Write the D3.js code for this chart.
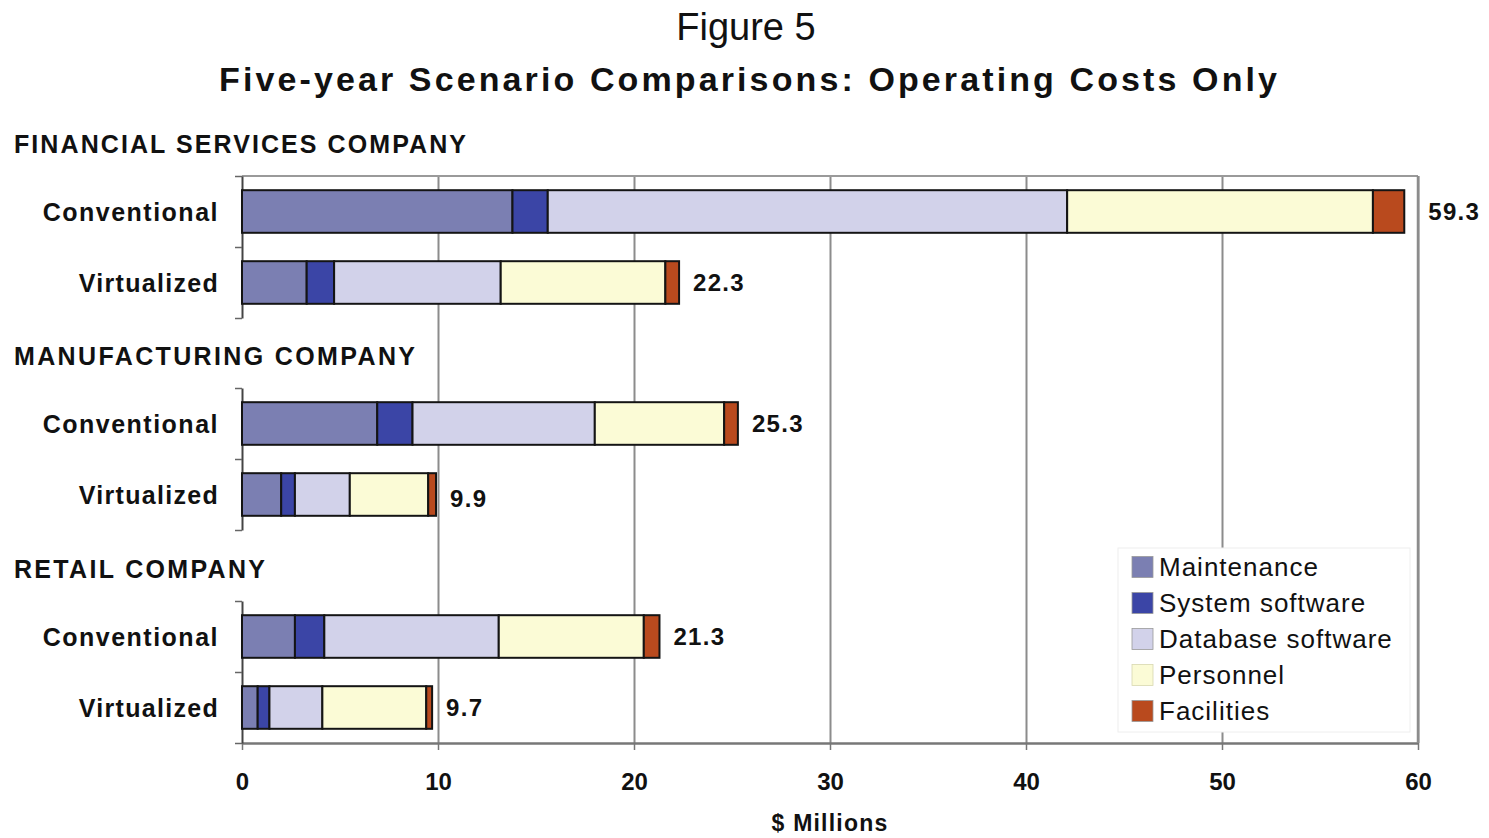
<!DOCTYPE html>
<html>
<head>
<meta charset="utf-8">
<script src="https://cdn.jsdelivr.net/npm/d3@7/dist/d3.min.js"></script>
<style>
  body { margin: 0; background: #fff; }
  text { font-family: "Liberation Sans", Arial, sans-serif; fill: #111; }
</style>
</head>
<body>
<div id="chart"></div>
<script>
// companies, scenarios and cost parts
const groups = ["FINANCIAL SERVICES COMPANY", "MANUFACTURING COMPANY", "RETAIL COMPANY"];
const scenarios = ["Conventional", "Virtualized"];
const components = ["Maintenance", "System software", "Database software", "Personnel", "Facilities"];

// one value per bar: fin conv, fin virt, manu conv, manu virt, retail conv, retail virt
const maintenance      = [13.8, 3.3, 6.9, 2.0, 2.7, 0.8];
const systemSoftware   = [1.8, 1.4, 1.8, 0.7, 1.5, 0.6];
const databaseSoftware = [26.5, 8.5, 9.3, 2.8, 8.9, 2.7];
const personnel        = [15.6, 8.4, 6.6, 4.0, 7.4, 5.3];
const facilities       = [1.6, 0.7, 0.7, 0.4, 0.8, 0.3];
const totals           = [59.3, 22.3, 25.3, 9.9, 21.3, 9.7];

const xTicks = [0, 10, 20, 30, 40, 50, 60];
const colors = ["#7b7fb2", "#3b45a6", "#d2d2ea", "#fbfbd6", "#b94a1e"];

const width = 1489, height = 838;
const left = 242, right = 1418;
const panelTops = [176, 388, 601];
const panelH = 142;
const plotTop = 176, plotBottom = 743;

const rows = totals.map((t, i) => ({
  group: groups[Math.floor(i / 2)],
  scenario: scenarios[i % 2],
  panel: Math.floor(i / 2),
  total: t,
  "Maintenance": maintenance[i],
  "System software": systemSoftware[i],
  "Database software": databaseSoftware[i],
  "Personnel": personnel[i],
  "Facilities": facilities[i]
}));

const series = d3.stack().keys(components)(rows);

const x = d3.scaleLinear().domain([0, 60]).range([left, right]);
const color = d3.scaleOrdinal().domain(components).range(colors);

const svg = d3.select("#chart").append("svg")
  .attr("width", width)
  .attr("height", height);

// titles
svg.append("text")
  .attr("x", 746).attr("y", 40)
  .attr("text-anchor", "middle")
  .style("font-size", "38px")
  .text("Figure 5");

svg.append("text")
  .attr("x", 748).attr("y", 91)
  .attr("text-anchor", "middle")
  .attr("textLength", 1058)
  .attr("lengthAdjust", "spacing")
  .style("font-size", "34px")
  .style("font-weight", "bold")
  .text("Five-year Scenario Comparisons: Operating Costs Only");

// grid lines
svg.append("g")
  .attr("transform", `translate(0,${plotBottom})`)
  .call(d3.axisBottom(x).tickValues(xTicks.slice(1)).tickSize(-(plotBottom - plotTop)).tickFormat(""))
  .call(g => g.select(".domain").remove())
  .call(g => g.selectAll("line").attr("stroke", "#8c8c8c").attr("stroke-width", 2));

// top border
svg.append("line")
  .attr("x1", left).attr("x2", right)
  .attr("y1", plotTop).attr("y2", plotTop)
  .attr("stroke", "#9a9a9a").attr("stroke-width", 2);

// bottom axis
const xAxis = svg.append("g")
  .attr("transform", `translate(0,${plotBottom})`)
  .call(d3.axisBottom(x).tickValues(xTicks).tickSize(7).tickPadding(23).tickSizeOuter(0));
xAxis.select(".domain").attr("stroke", "#777").attr("stroke-width", 2.5);
xAxis.selectAll("line").attr("stroke", "#777").attr("stroke-width", 1.5);
xAxis.selectAll("text")
  .style("font-size", "24px")
  .style("font-weight", "bold")
  .style("font-family", "'Liberation Sans', Arial, sans-serif")
  .attr("fill", "#111");

svg.append("text")
  .attr("x", (left + right) / 2).attr("y", 831)
  .attr("text-anchor", "middle")
  .style("font-size", "23px")
  .style("font-weight", "bold")
  .style("letter-spacing", "1.2px")
  .text("$ Millions");

// panels
const groupLabelWidths = [452, 401, 251];
panelTops.forEach((top, p) => {
  const y = d3.scaleBand().domain(scenarios).range([top, top + panelH]).paddingInner(0.4).paddingOuter(0.2);
  const yLin = d3.scaleLinear().domain([0, 2]).range([top, top + panelH]);

  svg.append("text")
    .attr("x", 14).attr("y", top - 23)
    .attr("textLength", groupLabelWidths[p])
    .attr("lengthAdjust", "spacing")
    .style("font-size", "25px")
    .style("font-weight", "bold")
    .text(groups[p]);

  const yAxis = svg.append("g")
    .attr("transform", `translate(${left},0)`)
    .call(d3.axisLeft(yLin).tickValues([0, 1, 2]).tickFormat("").tickSize(7).tickSizeOuter(0));
  yAxis.select(".domain").attr("stroke", "#444").attr("stroke-width", 2);
  yAxis.selectAll("line").attr("stroke", "#666").attr("stroke-width", 1.5);

  scenarios.forEach(s => {
    svg.append("text")
      .attr("x", 219).attr("y", y(s) + y.bandwidth() / 2)
      .attr("dy", "0.36em")
      .attr("text-anchor", "end")
      .style("font-size", "25px")
      .style("font-weight", "bold")
      .style("letter-spacing", s === "Conventional" ? "1.5px" : "1.3px")
      .text(s);
  });

  const pRows = series.map(ser => ser.filter(d => d.data.panel === p));
  svg.append("g")
    .selectAll("g")
    .data(series.map((ser, k) => ({ key: ser.key, pts: pRows[k] })))
    .join("g")
    .attr("fill", d => color(d.key))
    .selectAll("rect")
    .data(d => d.pts)
    .join("rect")
    .attr("x", d => x(d[0]))
    .attr("y", d => y(d.data.scenario))
    .attr("width", d => x(d[1]) - x(d[0]))
    .attr("height", y.bandwidth())
    .attr("stroke", "#141414")
    .attr("stroke-width", 2);

  svg.append("g")
    .selectAll("text")
    .data(rows.filter(r => r.panel === p))
    .join("text")
    .attr("x", d => x(d.total) + (d.total > 50 ? 24 : 14))
    .attr("y", d => y(d.scenario) + y.bandwidth() / 2 + (d.total === 9.9 ? 4 : 0))
    .attr("dy", "0.36em")
    .style("font-size", "24px")
    .style("font-weight", "bold")
    .style("letter-spacing", "1.3px")
    .text(d => d3.format(".1f")(d.total));
});

// right border
svg.append("line")
  .attr("x1", right).attr("x2", right)
  .attr("y1", plotTop).attr("y2", plotBottom)
  .attr("stroke", "#8c8c8c").attr("stroke-width", 2.5);

// legend
const legend = svg.append("g");
legend.append("rect")
  .attr("x", 1118).attr("y", 548)
  .attr("width", 292).attr("height", 184)
  .attr("fill", "#fff")
  .attr("stroke", "#eeeeee");

const ly = d3.scalePoint().domain(components).range([567, 711]);
components.forEach(c => {
  legend.append("rect")
    .attr("x", 1132).attr("y", ly(c) - 10.5)
    .attr("width", 21).attr("height", 21)
    .attr("fill", color(c))
    .attr("stroke", c === "Personnel" ? "#d8d8b0" : "#999")
    .attr("stroke-width", 0.8);
  legend.append("text")
    .attr("x", 1159).attr("y", ly(c))
    .attr("dy", "0.36em")
    .style("font-size", "26px")
    .style("letter-spacing", "1px")
    .attr("fill", "#222")
    .text(c);
});
</script>
</body>
</html>
